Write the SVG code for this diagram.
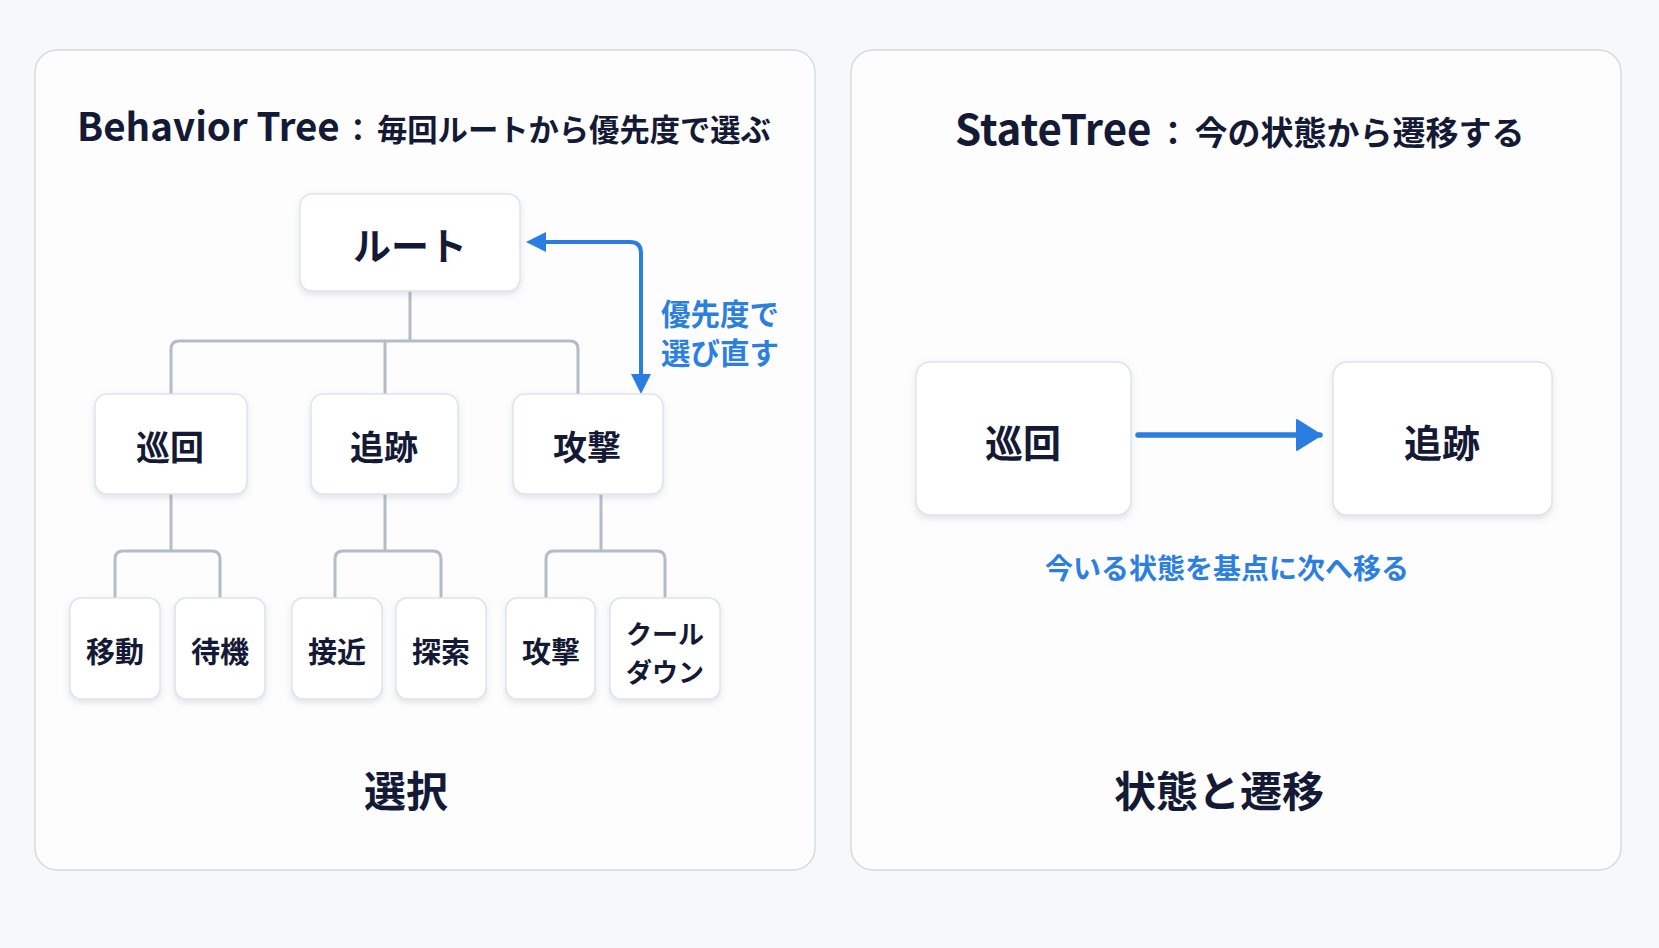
<svg xmlns="http://www.w3.org/2000/svg" width="1659" height="948" viewBox="0 0 1659 948">
  <defs>
    <filter id="sh" x="-20%" y="-20%" width="140%" height="150%">
      <feDropShadow dx="0" dy="3" stdDeviation="3" flood-color="#8a94a6" flood-opacity="0.25"/>
    </filter>
    <marker id="ab" viewBox="0 0 10 10" refX="8" refY="5" markerWidth="5" markerHeight="5" orient="auto-start-reverse" markerUnits="strokeWidth">
      <path d="M0,0 L10,5 L0,10 Z" fill="#2a7de1"/>
    </marker>
    <marker id="ab2" viewBox="0 0 26 32" refX="24" refY="16" markerWidth="26" markerHeight="32" orient="auto" markerUnits="userSpaceOnUse">
      <path d="M1,1 L25,16 L1,31 Z" fill="#2a7de1" stroke="#2a7de1" stroke-width="2" stroke-linejoin="round"/>
    </marker>
  </defs>
  <style>
    .panel { fill: #fdfdfe; stroke: #d6dae1; stroke-width: 1.5; }
    .box { fill: #ffffff; stroke: #dfe3e9; stroke-width: 1.5; filter: url(#sh); }
    .t { font-family: "Noto Sans CJK JP", "Noto Sans", sans-serif; font-weight: 700; fill: #141a36; text-anchor: middle; dominant-baseline: central; }
    .title { font-family: "Noto Sans CJK JP", "Noto Sans", sans-serif; font-weight: 700; fill: #141a36; }
    .blue { font-family: "Noto Sans CJK JP", "Noto Sans", sans-serif; font-weight: 700; fill: #2b7fe0; }
    .tree { fill: none; stroke: #b4bcc8; stroke-width: 3; stroke-linejoin: round; }
    .arr { fill: none; stroke: #2a7de1; stroke-width: 4; stroke-linejoin: round; }
    .arr2 { fill: none; stroke: #2a7de1; stroke-width: 5.5; stroke-linecap: round; }
  </style>
  <rect x="0" y="0" width="1659" height="948" fill="#f7f8fa"/>

  <rect class="panel" x="35" y="50" width="780" height="820" rx="22"/>
  <rect class="panel" x="851" y="50" width="770" height="820" rx="22"/>

  <text class="title" x="77" y="141"><tspan font-size="38.5">Behavior Tree</tspan><tspan font-size="30.3" dx="3">：</tspan><tspan font-size="30.3" dx="4">毎回ルートから優先度で選ぶ</tspan></text>
  <text class="title" x="955" y="145"><tspan font-size="42">StateTree</tspan><tspan font-size="33" dx="5">：</tspan><tspan font-size="33" dx="5">今の状態から遷移する</tspan></text>

  <g id="connectors">
    <path class="tree" d="M410,291 V341"/>
    <path class="tree" d="M171,394 V349 Q171,341 179,341 H570 Q578,341 578,349 V394"/>
    <path class="tree" d="M385,341 V394"/>
    <path class="tree" d="M171,494 V551"/>
    <path class="tree" d="M115,598 V559 Q115,551 123,551 H212 Q220,551 220,559 V598"/>
    <path class="tree" d="M385,494 V551"/>
    <path class="tree" d="M335,598 V559 Q335,551 343,551 H433 Q441,551 441,559 V598"/>
    <path class="tree" d="M601,494 V551"/>
    <path class="tree" d="M546,598 V559 Q546,551 554,551 H657 Q665,551 665,559 V598"/>
    <path class="arr" d="M530,242 H630 Q641,242 641,253 V390" marker-start="url(#ab)" marker-end="url(#ab)"/>
    <path class="arr2" d="M1138,435 H1320" marker-end="url(#ab2)"/>
  </g>

  <g id="n-root"><rect class="box" x="300" y="194" width="220" height="97" rx="12"/><text class="t" x="410" y="243" font-size="38">ルート</text></g>
  <g id="n-junkai"><rect class="box" x="95" y="394" width="152" height="100" rx="12"/><text class="t" x="170" y="445" font-size="34">巡回</text></g>
  <g id="n-tsuiseki"><rect class="box" x="311" y="394" width="147" height="100" rx="12"/><text class="t" x="384" y="445" font-size="34">追跡</text></g>
  <g id="n-kougeki"><rect class="box" x="513" y="394" width="150" height="100" rx="12"/><text class="t" x="587" y="445" font-size="34">攻撃</text></g>

  <g id="n-idou"><rect class="box" x="70" y="598" width="90" height="101" rx="11"/><text class="t" x="115" y="650" font-size="29">移動</text></g>
  <g id="n-taiki"><rect class="box" x="175" y="598" width="90" height="101" rx="11"/><text class="t" x="220" y="650" font-size="29">待機</text></g>
  <g id="n-sekkin"><rect class="box" x="292" y="598" width="90" height="101" rx="11"/><text class="t" x="337" y="650" font-size="29">接近</text></g>
  <g id="n-tansaku"><rect class="box" x="396" y="598" width="90" height="101" rx="11"/><text class="t" x="441" y="650" font-size="29">探索</text></g>
  <g id="n-kougeki2"><rect class="box" x="506" y="598" width="89" height="101" rx="11"/><text class="t" x="551" y="650" font-size="29">攻撃</text></g>
  <g id="n-cooldown"><rect class="box" x="610" y="598" width="110" height="101" rx="11"/><text class="t" x="665" y="632" font-size="26">クール</text><text class="t" x="665" y="670" font-size="26">ダウン</text></g>

  <text class="blue" x="661" y="325" font-size="29.5">優先度で</text>
  <text class="blue" x="661" y="364" font-size="29.5">選び直す</text>

  <text class="t" x="406" y="788" font-size="42">選択</text>

  <g id="s-junkai"><rect class="box" x="916" y="362" width="215" height="153" rx="14"/><text class="t" x="1023" y="440" font-size="38">巡回</text></g>
  <g id="s-tsuiseki"><rect class="box" x="1333" y="362" width="219" height="153" rx="14"/><text class="t" x="1442" y="440" font-size="38">追跡</text></g>

  <text class="blue" x="1227" y="567" font-size="28" text-anchor="middle" dominant-baseline="central">今いる状態を基点に次へ移る</text>
  <text class="t" x="1219" y="788" font-size="42">状態と遷移</text>
</svg>
